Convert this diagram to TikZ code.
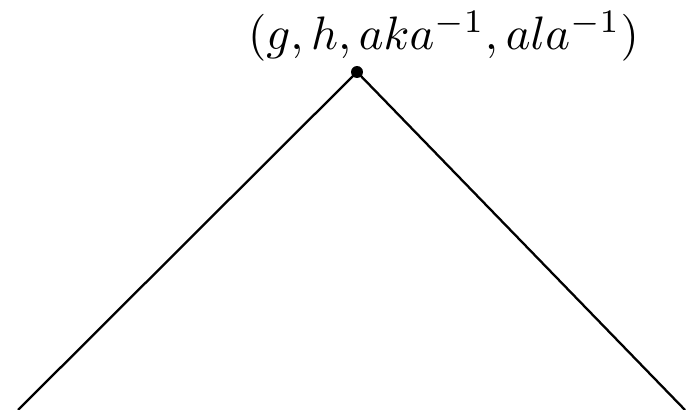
\documentclass[tikz,border=0pt]{standalone}
\begin{document}
\begin{tikzpicture}[x=0.2174pt,y=-0.2174pt,
  edge/.style={line width=0.5pt},
  vdot/.style={circle,fill=black,inner sep=0pt,minimum size=2.6pt}]
\useasboundingbox (0,0) rectangle (686,410);
\node[vdot] (top) at (357,72) {};
\coordinate (l) at (18,410);
\coordinate (r) at (685,410);
\node[anchor=base,inner sep=0pt,scale=1.02] (lab) at (443.5,50) {$(g,h,aka^{-1},ala^{-1})$};
\draw[edge] (top.center) -- (l);
\draw[edge] (top.center) -- (r);
\end{tikzpicture}
\end{document}
